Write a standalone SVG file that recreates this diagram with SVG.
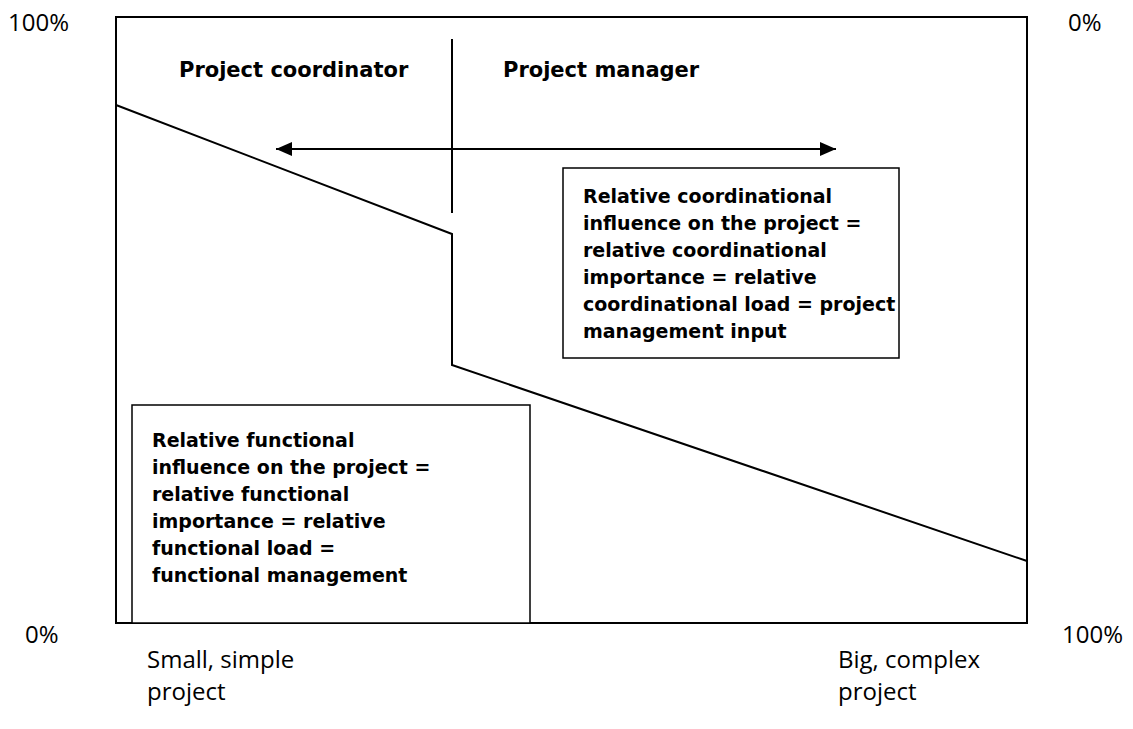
<svg xmlns="http://www.w3.org/2000/svg" width="1133" height="729" viewBox="0 0 1133 729">
<style>
.ln{fill:none;stroke:#000;stroke-width:2}
.box{fill:#fff;stroke:#000;stroke-width:1.5}
.b{font-family:"DejaVu Sans",Verdana,sans-serif;font-weight:bold;font-size:19px;fill:#000}
.t{font-family:"DejaVu Sans",Verdana,sans-serif;font-weight:bold;font-size:21px;fill:#000}
.r{font-family:"Open Sans","Noto Sans",sans-serif;font-size:24px;fill:#000}
</style>
<defs>
<marker id="ah" markerWidth="16" markerHeight="14" refX="16" refY="7" orient="auto-start-reverse" markerUnits="userSpaceOnUse" viewBox="0 0 16 14">
<path d="M0,0 L16,7 L0,14 z" fill="#000"/>
</marker>
</defs>
<g id="frame">
<rect x="116" y="17" width="911" height="606" class="ln"/>
</g>
<g id="axis-labels">
<text class="r" x="8" y="31">100%</text>
<text class="r" x="1068" y="31">0%</text>
<text class="r" x="25" y="643">0%</text>
<text class="r" x="1062" y="643">100%</text>
<text class="r" x="147" y="668">Small, simple</text>
<text class="r" x="147" y="700">project</text>
<text class="r" x="838" y="668">Big, complex</text>
<text class="r" x="838" y="700">project</text>
</g>
<g id="connectors">
<polyline class="ln" points="116,105 452,234 452,365 1027,561"/>
<line class="ln" x1="452" y1="39" x2="452" y2="213"/>
<line class="ln" x1="276" y1="149" x2="836" y2="149" marker-start="url(#ah)" marker-end="url(#ah)"/>
</g>
<g id="role-labels">
<text class="t" x="179" y="77">Project coordinator</text>
<text class="t" x="503" y="77">Project manager</text>
</g>
<g id="coordinational-box">
<rect class="box" x="563" y="168" width="336" height="190"/>
<text class="b" x="583" y="203">Relative coordinational</text>
<text class="b" x="583" y="230">influence on the project =</text>
<text class="b" x="583" y="257">relative coordinational</text>
<text class="b" x="583" y="284">importance = relative</text>
<text class="b" x="583" y="311">coordinational load  = project</text>
<text class="b" x="583" y="338">management input</text>
</g>
<g id="functional-box">
<rect class="box" x="132" y="405" width="398" height="218"/>
<text class="b" x="152" y="447">Relative functional</text>
<text class="b" x="152" y="474">influence on the project =</text>
<text class="b" x="152" y="501">relative functional</text>
<text class="b" x="152" y="528">importance = relative</text>
<text class="b" x="152" y="555">functional load =</text>
<text class="b" x="152" y="582">functional management</text>
</g>
</svg>
